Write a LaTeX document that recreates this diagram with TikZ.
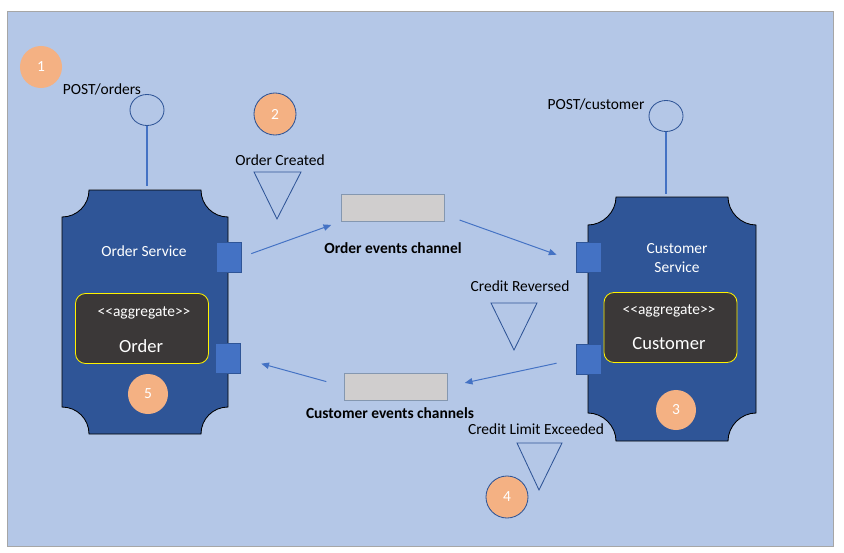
\documentclass[tikz,border=0pt]{standalone}
\usepackage{fontspec}
\setmainfont{Carlito}
\usetikzlibrary{positioning,arrows.meta,shapes.geometric}
\definecolor{canvas}{RGB}{180,199,231}
\definecolor{frameline}{RGB}{166,166,166}
\definecolor{svcblue}{RGB}{47,85,151}
\definecolor{portblue}{RGB}{68,114,196}
\definecolor{aggdark}{RGB}{59,56,56}
\definecolor{chanfill}{RGB}{208,206,206}
\definecolor{chanedge}{RGB}{132,151,176}
\definecolor{stepfill}{RGB}{244,177,131}
\newcommand{\lbl}{\fontsize{11}{13}\selectfont}
\newcommand{\bigname}{\fontsize{13.2}{15}\selectfont}
\newcommand{\aggtag}{\textless\kern0pt\textless aggregate\textgreater\kern0pt\textgreater}
\tikzset{
  >={Latex},
  flow/.style   ={portblue, line width=0.7pt, -{Triangle[length=5.5pt,width=4.5pt]}},
  svc/.style    ={fill=svcblue, draw=black, line width=0.6pt},
  port/.style   ={rectangle, fill=portblue, draw=svcblue, line width=0.5pt, minimum width=0.625cm, minimum height=0.75cm, inner sep=0pt},
  agg/.style    ={rectangle, rounded corners=0.25cm, fill=aggdark, draw=yellow, line width=0.6pt, minimum width=3.325cm, minimum height=1.75cm},
  chan/.style   ={rectangle, fill=chanfill, draw=chanedge, line width=0.6pt, minimum width=2.575cm, minimum height=0.675cm, inner sep=0pt},
  stepnum/.style={circle, fill=stepfill, minimum size=1.05cm, inner sep=0pt, text=white, font=\lbl},
  evt/.style    ={draw=svcblue, line width=0.6pt},
  api/.style    ={ellipse, draw=svcblue, line width=0.6pt, minimum width=0.85cm, minimum height=0.775cm, inner sep=0pt},
  stem/.style   ={portblue, line width=1.4pt},
  txt/.style    ={font=\lbl, inner sep=0pt},
}

\begin{document}
\begin{tikzpicture}[x=0.025cm, y=-0.025cm]
  \useasboundingbox (0,0) rectangle (844,553);
  \fill[canvas] (7,11) rectangle (833,546);
  \draw[frameline, line width=0.6pt] (7,11) rectangle (833,546);

  % ---------- Left: order service ----------
  \draw[svc] (89,190) -- (201,190) .. controls (201,205) and (213,217) .. (228,217)
    -- (228,407) .. controls (213,407) and (201,419) .. (201,434)
    -- (89,434) .. controls (89,419) and (77,407) .. (62,407)
    -- (62,217) .. controls (77,217) and (89,205) .. (89,190) -- cycle;
  \node[txt, text=white] (osName) at (144,251) {Order Service};
  \node[agg] (osAgg) at (142,328.5) {};
  \node[txt, text=white] (osAggTag) at (144,313) {\aggtag};
  \node[txt, text=white, font=\bigname] (osAggName) at (141,346) {Order};
  \node[port] (osOut) at (229,257) {};
  \node[port] (osIn) at (228,358) {};

  % REST endpoint
  \node[api] (opCirc) at (147,110) {};
  \coordinate (osStem) at (147,186);
  \draw[stem] (opCirc) -- (osStem);
  \node[txt] (opLabel) at (102,89) {POST/orders};

  % ---------- Right: customer service ----------
  \draw[svc] (616,197) -- (728,197) .. controls (728,212) and (741,225) .. (756,225)
    -- (756,413) .. controls (741,413) and (728,426) .. (728,441)
    -- (616,441) .. controls (616,426) and (603,413) .. (588,413)
    -- (588,225) .. controls (603,225) and (616,212) .. (616,197) -- cycle;
  \node[txt, text=white, align=center] (csName) at (677,258) {Customer\\[1pt]Service};
  \node[agg] (csAgg) at (670.5,327.5) {};
  \node[txt, text=white] (csAggTag) at (669,311) {\aggtag};
  \node[txt, text=white, font=\bigname] (csAggName) at (669,344) {Customer};
  \node[port] (csIn) at (589,257) {};
  \node[port] (csOut) at (589,359) {};

  % REST endpoint
  \node[api] (cpCirc) at (666,116) {};
  \coordinate (csStem) at (666,194);
  \draw[stem] (cpCirc) -- (csStem);
  \node[txt] (cpLabel) at (596,104) {POST/customer};

  % ---------- Middle: channels ----------
  \node[chan] (oeChan) at (393,207.5) {};
  \node[txt, font=\lbl\bfseries] (oeLabel) at (393,248) {Order events channel};
  \node[chan] (ceChan) at (396,386.5) {};
  \node[txt, font=\lbl\bfseries] (ceLabel) at (390,413) {Customer events channels};

  \draw[flow, shorten <=0.25cm, shorten >=0.26cm] (osOut.east) -- (oeChan.south west);
  \draw[flow, shorten <=0.39cm, shorten >=0.52cm] (oeChan.-8) -- (csIn.200);
  \draw[flow, shorten <=0.5cm, shorten >=0.43cm] (csOut.west) -- (ceChan.east);
  \draw[flow, shorten <=0.46cm, shorten >=0.53cm] (ceChan.west) -- (osIn.east);

  % events
  \draw[evt] (254,172) -- (301,172) -- (277,219) -- cycle;
  \node[txt] (ocLabel) at (280,160) {Order Created};
  \draw[evt] (491,303) -- (537,303) -- (514,350) -- cycle;
  \node[txt] (crLabel) at (520,286) {Credit Reversed};
  \draw[evt] (517,443) -- (562,443) -- (539,490) -- cycle;
  \node[txt] (clLabel) at (536,429) {Credit Limit Exceeded};

  % steps
  \node[stepnum] (s1) at (41,67) {1};
  \node[stepnum, draw=svcblue, line width=0.6pt] (s2) at (275,114) {2};
  \node[stepnum, minimum size=1.0cm] (s3) at (676,410) {3};
  \node[stepnum, draw=svcblue, line width=0.6pt] (s4) at (507,497) {4};
  \node[stepnum, minimum size=1.0cm] (s5) at (148,394) {5};
\end{tikzpicture}
\end{document}
